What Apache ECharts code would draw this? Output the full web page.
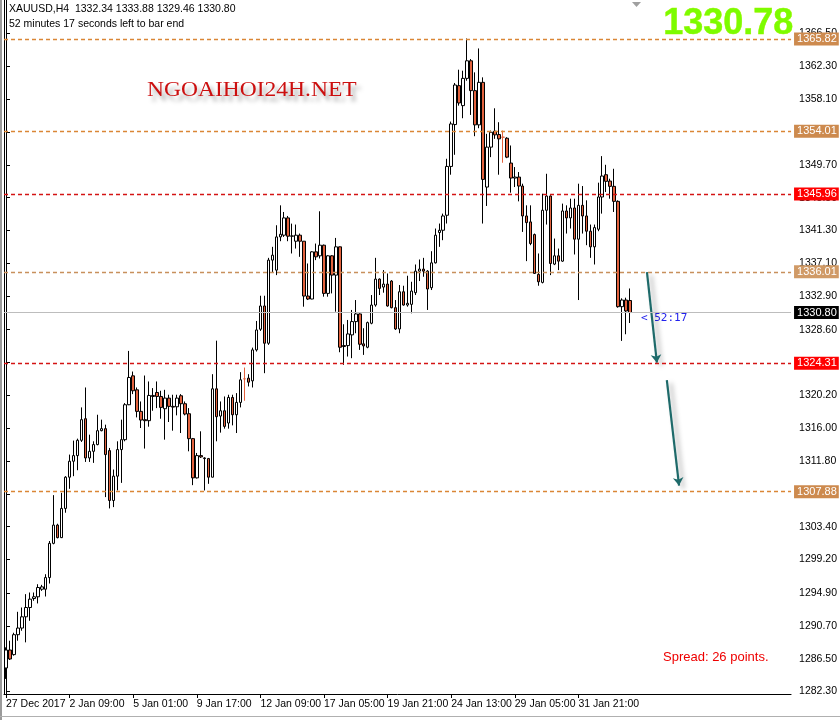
<!DOCTYPE html>
<html>
<head>
<meta charset="utf-8">
<script src="https://cdn.jsdelivr.net/npm/echarts@6/dist/echarts.min.js"></script>
<style>
html,body{margin:0;padding:0;background:#fff;}
#chart{width:840px;height:720px;}
</style>
</head>
<body>
<div id="chart"></div>
<script>
// ---- data (XAUUSD H4) ----
const opens = [1285.31,1287.61,1287.02,1289.57,1290.42,1291.86,1293.05,1294.20,1294.42,1295.39,
1295.39,1296.88,1301.26,1303.60,1301.99,1305.73,1309.73,1311.77,1312.49,1314.45,
1317.21,1312.19,1313.04,1313.90,1315.68,1315.94,1313.13,1306.75,1309.86,1313.26,
1314.53,1319.00,1322.70,1320.91,1318.15,1317.09,1316.96,1320.06,1320.57,1320.06,
1318.49,1319.85,1318.79,1318.74,1320.15,1319.13,1317.85,1314.66,1309.64,1312.49,
1312.19,1312.11,1309.73,1321.04,1317.55,1318.23,1316.66,1319.93,1317.72,1319.30,
1322.32,1322.40,1322.06,1326.02,1328.66,1331.64,1326.87,1337.51,1336.23,1340.48,
1340.70,1342.91,1340.57,1339.93,1340.70,1339.93,1332.91,1332.53,1338.57,1338.06,
1339.42,1333.25,1338.06,1335.59,1339.21,1326.57,1326.57,1327.94,1329.64,1330.62,
1326.79,1326.36,1329.43,1331.76,1335.08,1334.06,1334.44,1334.83,1331.42,1328.70,
1333.46,1331.76,1331.85,1333.34,1336.10,1336.36,1336.10,1333.98,1337.16,1341.04,
1341.33,1343.25,1349.50,1354.86,1359.84,1357.28,1360.77,1363.02,1359.20,1354.82,
1360.26,1346.86,1351.97,1354.01,1353.58,1353.24,1353.11,1349.93,1348.01,1348.14,
1346.99,1343.16,1342.40,1340.78,1335.68,1334.66,1343.89,1345.71,1337.00,1338.06,
1337.38,1343.80,1342.91,1344.18,1340.19,1344.52,1343.16,1341.21,1339.21,1341.46,
1345.59,1348.44,1347.63,1346.95,1345.03,1331.55,1332.40,1332.34];
const closes = [1287.61,1286.46,1289.57,1290.42,1291.86,1293.05,1294.12,1294.42,1295.61,1295.69,
1296.88,1301.26,1303.60,1301.99,1305.73,1309.73,1311.77,1312.49,1314.45,1317.09,
1312.19,1313.04,1313.90,1315.68,1315.94,1312.62,1306.75,1309.86,1313.26,1314.53,
1319.00,1322.49,1320.79,1318.15,1317.04,1316.96,1320.19,1320.19,1320.06,1318.66,
1319.85,1318.79,1318.70,1319.85,1319.13,1317.81,1314.66,1309.64,1312.49,1312.32,
1312.11,1309.73,1321.04,1317.47,1318.23,1316.23,1319.93,1317.72,1319.30,1322.19,
1322.32,1321.89,1326.02,1328.57,1331.64,1326.87,1337.51,1338.14,1340.48,1340.82,
1342.91,1340.57,1340.61,1340.70,1339.93,1332.91,1332.53,1338.57,1337.93,1339.42,
1333.25,1338.06,1335.59,1339.21,1326.36,1326.45,1328.06,1329.64,1330.62,1326.74,
1326.53,1329.51,1331.76,1335.08,1333.89,1334.44,1331.64,1331.42,1328.70,1333.46,
1331.76,1331.98,1333.55,1336.10,1336.36,1336.10,1333.81,1337.16,1340.70,1341.33,
1343.16,1349.50,1354.94,1359.92,1357.62,1360.77,1363.02,1359.20,1354.82,1360.26,
1347.84,1351.97,1353.88,1353.54,1353.03,1353.24,1350.69,1348.01,1348.14,1346.99,
1343.16,1342.31,1339.63,1335.81,1334.74,1343.89,1345.71,1337.08,1338.06,1337.38,
1343.80,1342.91,1344.18,1340.19,1344.52,1343.16,1341.21,1339.21,1341.67,1345.59,
1348.27,1347.59,1346.95,1345.03,1331.55,1332.40,1331.00,1330.80];
const lows = [1283.91,1286.34,1286.89,1288.80,1290.08,1288.59,1291.35,1293.91,1293.57,1295.18,
1294.46,1296.12,1301.14,1301.90,1301.94,1305.18,1308.24,1309.86,1310.62,1314.24,
1311.68,1311.68,1311.56,1313.81,1315.60,1307.18,1305.73,1305.90,1308.03,1309.00,
1314.32,1318.95,1320.36,1317.38,1316.02,1313.39,1316.19,1318.23,1318.57,1317.21,
1314.53,1316.79,1315.68,1317.64,1315.38,1317.64,1313.04,1308.71,1309.56,1312.19,
1308.03,1308.88,1309.70,1314.32,1315.43,1315.94,1315.94,1316.36,1315.38,1318.66,
1319.51,1321.34,1321.21,1325.81,1328.45,1323.04,1326.66,1335.93,1335.59,1339.93,
1340.48,1339.93,1338.36,1338.99,1337.93,1331.55,1332.40,1332.50,1337.51,1337.72,
1332.83,1332.83,1333.25,1330.91,1325.72,1324.11,1325.17,1324.96,1328.15,1326.02,
1325.38,1326.23,1329.30,1331.55,1333.04,1333.34,1331.55,1331.34,1328.57,1328.15,
1331.68,1331.55,1330.70,1333.04,1334.83,1335.38,1331.13,1333.68,1337.08,1339.21,
1340.06,1342.19,1348.44,1350.99,1357.28,1355.67,1360.47,1356.09,1353.37,1354.39,
1342.19,1344.44,1350.69,1353.03,1348.44,1349.97,1350.56,1346.14,1346.86,1345.03,
1341.12,1337.38,1339.42,1335.75,1334.23,1334.53,1342.06,1335.59,1336.87,1336.23,
1337.29,1340.91,1341.55,1338.23,1332.40,1340.91,1339.42,1337.80,1336.95,1341.21,
1343.46,1346.23,1345.37,1343.67,1331.42,1327.17,1328.02,1329.46];
const highs = [1287.95,1288.80,1289.82,1292.50,1293.05,1294.76,1294.97,1294.97,1296.03,1295.95,
1297.31,1301.56,1307.43,1303.77,1307.73,1309.86,1312.62,1314.41,1314.66,1318.66,
1321.21,1315.17,1314.32,1317.72,1317.09,1316.45,1313.47,1310.71,1314.32,1317.09,
1319.21,1325.89,1323.25,1321.21,1319.42,1322.74,1321.98,1321.13,1321.98,1320.79,
1320.91,1320.28,1320.28,1320.28,1320.36,1319.42,1318.57,1314.75,1312.83,1315.60,
1312.28,1312.19,1322.91,1327.20,1319.42,1320.06,1320.28,1320.28,1320.49,1323.17,
1323.76,1322.91,1326.31,1329.72,1332.95,1332.95,1337.80,1339.21,1341.97,1344.52,
1343.67,1343.16,1342.18,1342.06,1340.91,1339.95,1337.08,1338.65,1339.63,1343.76,
1339.50,1338.14,1338.14,1340.35,1339.25,1329.30,1329.85,1331.13,1332.40,1330.70,
1328.79,1329.64,1333.04,1337.80,1335.17,1336.23,1335.80,1334.95,1332.40,1334.32,
1334.23,1335.51,1334.74,1336.95,1337.59,1337.80,1336.23,1338.65,1341.55,1342.19,
1343.46,1350.48,1355.24,1360.18,1361.88,1361.75,1365.87,1363.24,1361.54,1364.60,
1360.90,1353.67,1354.09,1356.94,1355.16,1354.09,1353.24,1352.18,1349.42,1348.78,
1347.29,1344.52,1344.52,1340.91,1338.36,1346.01,1348.56,1345.80,1340.27,1338.99,
1344.74,1344.52,1345.37,1345.37,1347.29,1346.99,1345.16,1342.06,1342.06,1347.42,
1350.82,1349.71,1347.93,1349.20,1345.16,1332.62,1332.70,1333.88];

// x axis: bar slots (chart shifted, empty slots on the right)
const slotCount = 198;
const xTickIdx = [0,16,32,48,64,80,96,112,128,144];
const xTickLabels = ['27 Dec 2017','2 Jan 09:00','5 Jan 01:00','9 Jan 17:00','12 Jan 09:00','17 Jan 05:00','19 Jan 21:00','24 Jan 13:00','29 Jan 05:00','31 Jan 21:00'];
// y axis tick labels
const yTicks = [1282.30,1286.50,1290.70,1294.90,1299.20,1303.40,1307.60,1311.80,1316.00,1320.20,1324.40,1328.60,1332.90,1337.10,1341.30,1345.50,1349.70,1353.90,1358.10,1362.30,1366.50];
// horizontal levels
const levelValues = [1365.82,1354.01,1345.96,1336.01,1324.31,1307.88];
const levelKinds  = ['orange','orange','red','tan','red','orange'];
const currentPrice = 1330.80;
// drawn arrows: [xSlot1, price1, xSlot2, price2]
const arrowSegments = [[161.25,1335.96,163.75,1324.38],[166.25,1322.14,169.33,1308.65]];

const Y_MIN = 1281.98, Y_MAX = 1370.80;

const categories = [];
for (let i = 0; i < slotCount; i++) categories.push(String(i));
const candleData = [];
for (let i = 0; i < slotCount; i++) {
  if (i < opens.length) candleData.push([opens[i], closes[i], lows[i], highs[i]]);
  else candleData.push('-');
}

const kindStyle = {
  orange: {line:'#DA8636', bg:'#CD8A4E'},
  tan:    {line:'#C8905C', bg:'#D09A66'},
  red:    {line:'#D41414', bg:'#FF0000'}
};
const levelLines = levelValues.map((v, i) => {
  const s = kindStyle[levelKinds[i]];
  return {
    yAxis: v,
    lineStyle: {color: s.line, type: [4,3], width: 1.3},
    label: {show: true, position: 'end', distance: 3, formatter: v.toFixed(2),
      backgroundColor: s.bg, color: '#fff', padding: [1,2,0,3],
      fontFamily: 'Liberation Sans', fontSize: 11, lineHeight: 12}
  };
});
levelLines.push({
  yAxis: currentPrice,
  lineStyle: {color: '#BDBDBD', type: 'solid', width: 1.2},
  label: {show: true, position: 'end', distance: 3, formatter: currentPrice.toFixed(2),
    backgroundColor: '#000', color: '#fff', padding: [1,2,0,3],
    fontFamily: 'Liberation Sans', fontSize: 11, lineHeight: 12}
});

const chart = echarts.init(document.getElementById('chart'), null, {renderer: 'canvas'});
const axisFont = {fontFamily: 'Liberation Sans', fontSize: 10.5, color: '#000'};

chart.setOption({
  animation: false,
  backgroundColor: '#fff',
  grid: {left: 4, top: -2, width: 792, height: 696, show: false},
  xAxis: [{
    type: 'category',
    data: categories,
    boundaryGap: true,
    axisLine: {show: true, lineStyle: {color: '#000', width: 1}},
    axisTick: {show: true, alignWithLabel: true, length: 4, lineStyle: {color: '#000'},
      interval: (idx) => xTickIdx.indexOf(idx) >= 0},
    axisLabel: Object.assign({
      interval: (idx) => xTickIdx.indexOf(idx) >= 0,
      formatter: (val, idx) => { const k = xTickIdx.indexOf(idx); return k >= 0 ? xTickLabels[k] : ''; },
      align: 'left', margin: 5
    }, axisFont),
    splitLine: {show: false}
  }, {
    type: 'value', min: -0.5, max: slotCount - 0.5, show: false
  }],
  yAxis: [{
    type: 'value', position: 'right', min: Y_MIN, max: Y_MAX, offset: 2,
    axisLine: {show: true, lineStyle: {color: '#000', width: 1}},
    axisTick: {show: true, length: 4, lineStyle: {color: '#000'}, customValues: yTicks},
    axisLabel: Object.assign({customValues: yTicks, formatter: (v) => v.toFixed(2), margin: 6}, axisFont),
    splitLine: {show: false}
  }, {
    type: 'value', position: 'left', min: Y_MIN, max: Y_MAX,
    axisLine: {show: true, lineStyle: {color: '#000', width: 1}},
    axisTick: {show: false}, axisLabel: {show: false}, splitLine: {show: false}
  }],
  series: [{
    type: 'candlestick',
    xAxisIndex: 0, yAxisIndex: 0,
    data: candleData,
    barWidth: 3,
    itemStyle: {
      color: '#FFFFFF', color0: '#E2623E',
      borderColor: '#000', borderColor0: '#000',
      borderColorDoji: '#E2623E', borderWidth: 1
    },
    markLine: {silent: true, symbol: ['none','none'], animation: false, data: levelLines},
    z: 3
  }, {
    type: 'lines',
    coordinateSystem: 'cartesian2d',
    xAxisIndex: 1, yAxisIndex: 0,
    symbol: ['none', 'arrow'],
    symbolSize: [6, 8],
    lineStyle: {color: '#1E6A6A', width: 2.2, opacity: 1,
      shadowColor: 'rgba(0,0,0,0.35)', shadowBlur: 5, shadowOffsetX: 4, shadowOffsetY: 3},
    data: arrowSegments.map(a => ({coords: [[a[0], a[1]], [a[2], a[3]]]})),
    z: 4
  }],
  graphic: [
    {type: 'rect', shape: {x: 0, y: 0, width: 2, height: 720}, style: {fill: '#9A9A9A'}, silent: true},
    {type: 'rect', shape: {x: 0, y: 716, width: 840, height: 1}, style: {fill: '#B0B0B0'}, silent: true},
    {type: 'text', left: 9, top: 4, style: {text: 'XAUUSD,H4  1332.34 1333.88 1329.46 1330.80',
      fill: '#000', font: '10.5px "Liberation Sans"'}},
    {type: 'text', left: 9, top: 19, style: {text: '52 minutes 17 seconds left to bar end',
      fill: '#000', font: '10.5px "Liberation Sans"'}},
    {type: 'text', left: 663, top: 6, style: {text: '1330.78', fill: '#7CFC00',
      font: 'bold 36px "Liberation Sans"', stroke: '#B8F000', lineWidth: 0.5}},
    {type: 'text', left: 147, top: 80, style: {text: 'NGOAIHOI24H.NET', fill: '#CC0F0F',
      font: '21px "Liberation Serif"', textShadowColor: 'rgba(0,0,0,0.35)', textShadowBlur: 4,
      textShadowOffsetX: 4, textShadowOffsetY: 5}, scaleX: 1.12},
    {type: 'text', left: 641, top: 313, style: {text: '< 52:17', fill: '#2222EE',
      font: '11px "DejaVu Sans Mono"'}},
    {type: 'text', left: 663, top: 651, style: {text: 'Spread: 26 points.', fill: '#EE0000',
      font: '13px "Liberation Sans"'}},
    {type: 'polygon', shape: {points: [[632,2],[641,2],[636.5,7]]}, style: {fill: '#A0A0A0'}, silent: true}
  ]
});
</script>
</body>
</html>
